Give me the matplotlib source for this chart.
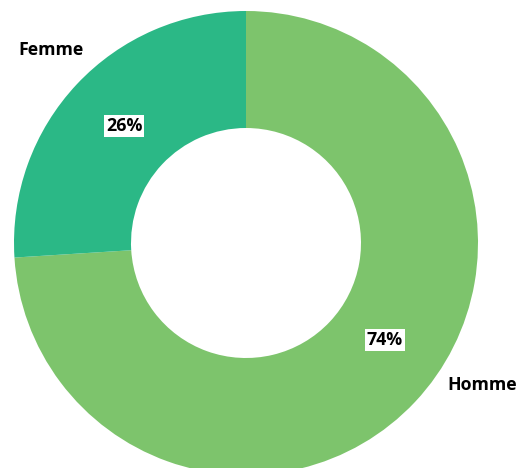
import matplotlib.pyplot as plt
import numpy as np

labels = ['Homme', 'Femme']
values = [74, 26]
colors = ['#7dc46c', '#2bb886']
pct_text = ['74%', '26%']

W, H = 527, 468
fig = plt.figure(figsize=(W / 100, H / 100), dpi=100)
ax = fig.add_axes([0, 0, 1, 1])

cx, cy, R = 246, 468 - 243, 232
wedges, _ = ax.pie(values, colors=colors, startangle=90, counterclock=False,
                   center=(cx, cy), radius=R,
                   wedgeprops=dict(width=R - 115, edgecolor='none'),
                   frame=True)
ax.set_xlim(0, W)
ax.set_ylim(0, H)
ax.set_aspect('equal')
ax.axis('off')

font = dict(family='Open Sans', fontweight='bold', fontsize=12.8, color='black')

# percent labels (positions)
ax.text(385, 468 - 340, pct_text[0], ha='center', va='center',
        bbox=dict(facecolor='white', edgecolor='none', pad=1.2), **font)
ax.text(124, 468 - 126, pct_text[1], ha='center', va='center',
        bbox=dict(facecolor='white', edgecolor='none', pad=1.2), **font)

# category labels
ax.text(482, 468 - 385, labels[0], ha='center', va='center', **font)
ax.text(51, 468 - 50, labels[1], ha='center', va='center', **font)

plt.savefig('out.png', dpi=100)
